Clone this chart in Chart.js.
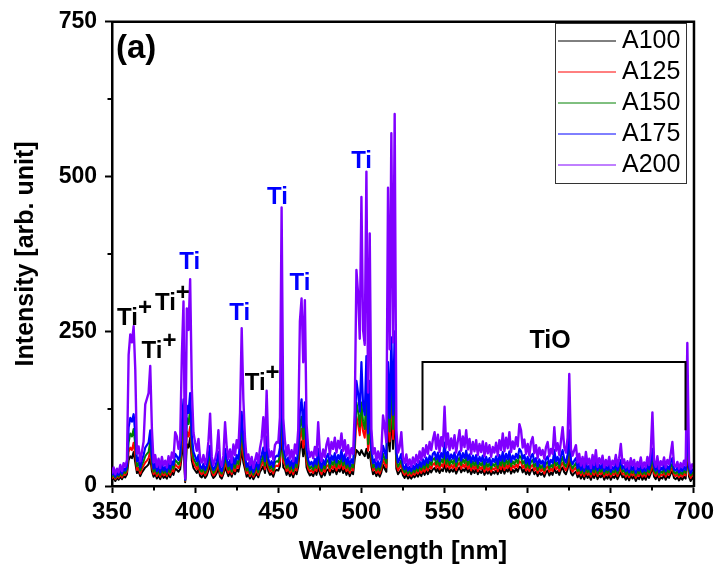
<!DOCTYPE html>
<html>
<head>
<meta charset="utf-8">
<title>Emission spectra A100–A200</title>
<script src="https://cdn.jsdelivr.net/npm/chart.js@4/dist/chart.umd.min.js"></script>
<style>
  html, body { margin: 0; padding: 0; background: #ffffff; }
  canvas { display: block; }
</style>
</head>
<body>
<canvas id="spectrum" width="719" height="576"></canvas>
<script>
// Wavelength grid of the recorded spectra (nm)
const WL_START = 350;
const WL_STEP = 1;

// Emission intensity [arb. unit], one value per nm from 350 to 700 nm
const A100 = [
  9, 14, 8, 13, 10, 15, 11, 16, 14, 19,
  42, 48, 45, 55, 38, 21, 24, 16, 22, 26,
  30, 32, 35, 45, 24, 15, 20, 12, 17, 11,
  19, 13, 16, 12, 20, 14, 22, 18, 28, 26,
  23, 27, 50, 72, 6, 68, 62, 78, 41, 29,
  25, 21, 27, 16, 14, 19, 13, 17, 25, 34,
  18, 13, 16, 21, 28, 15, 12, 19, 31, 23,
  16, 22, 15, 25, 19, 27, 23, 36, 60, 38,
  27, 15, 19, 12, 18, 11, 16, 20, 14, 23,
  27, 32, 21, 41, 24, 18, 21, 15, 24, 26,
  25, 32, 100, 30, 27, 18, 24, 16, 22, 14,
  24, 19, 31, 60, 72, 48, 68, 30, 22, 17,
  20, 16, 24, 18, 31, 20, 14, 22, 17, 25,
  27, 18, 26, 22, 28, 19, 27, 23, 31, 21,
  27, 18, 24, 16, 23, 19, 44, 58, 55, 50,
  58, 52, 48, 60, 45, 55, 32, 19, 23, 16,
  21, 15, 22, 34, 28, 23, 100, 56, 120, 60,
  128, 28, 19, 23, 27, 17, 13, 19, 12, 16,
  12, 17, 14, 19, 15, 21, 16, 23, 18, 24,
  19, 26, 22, 27, 29, 23, 28, 21, 27, 24,
  36, 23, 29, 22, 27, 23, 28, 20, 26, 30,
  22, 27, 24, 30, 22, 27, 19, 26, 21, 27,
  19, 25, 21, 26, 18, 24, 20, 24, 18, 23,
  20, 25, 19, 27, 21, 29, 20, 27, 23, 30,
  20, 26, 22, 28, 23, 31, 30, 22, 27, 19,
  24, 18, 25, 27, 19, 23, 16, 22, 18, 21,
  15, 22, 25, 17, 22, 18, 30, 21, 24, 18,
  26, 30, 22, 19, 27, 45, 21, 17, 21, 23,
  14, 19, 12, 18, 11, 20, 13, 17, 10, 18,
  13, 21, 11, 17, 14, 19, 10, 16, 12, 18,
  10, 16, 13, 18, 11, 17, 22, 14, 16, 10,
  15, 9, 17, 12, 16, 8, 14, 11, 18, 10,
  15, 10, 18, 13, 20, 32, 15, 11, 19, 9,
  14, 12, 18, 10, 16, 13, 20, 24, 13, 11,
  14, 9, 14, 10, 15, 12, 58, 15, 8, 13,
  10
];

const A125 = [
  12, 17, 11, 16, 13, 19, 14, 20, 18, 23,
  55, 62, 58, 70, 50, 26, 30, 20, 28, 33,
  38, 41, 45, 58, 31, 19, 25, 16, 22, 15,
  24, 17, 21, 16, 25, 18, 27, 23, 35, 32,
  29, 34, 65, 92, 8, 88, 80, 96, 52, 37,
  32, 27, 34, 21, 19, 25, 17, 22, 32, 43,
  23, 17, 20, 27, 36, 19, 16, 24, 39, 29,
  21, 28, 19, 31, 24, 34, 29, 45, 78, 49,
  34, 20, 25, 16, 23, 15, 20, 26, 18, 29,
  34, 41, 27, 52, 30, 23, 27, 20, 31, 33,
  32, 41, 130, 39, 34, 24, 31, 21, 28, 19,
  31, 25, 39, 78, 92, 62, 88, 39, 28, 23,
  26, 21, 30, 24, 39, 26, 19, 28, 23, 32,
  34, 24, 33, 28, 35, 25, 34, 29, 39, 27,
  34, 24, 31, 21, 29, 25, 55, 112, 100, 82,
  117, 88, 78, 122, 57, 100, 40, 25, 29, 21,
  27, 20, 28, 43, 36, 30, 130, 72, 155, 76,
  165, 36, 25, 30, 35, 22, 18, 24, 17, 21,
  16, 22, 18, 25, 20, 27, 21, 29, 23, 31,
  25, 33, 28, 35, 37, 29, 36, 27, 35, 31,
  46, 30, 37, 28, 34, 29, 36, 26, 34, 38,
  28, 35, 30, 38, 28, 34, 25, 33, 27, 34,
  24, 31, 27, 33, 23, 31, 25, 30, 23, 29,
  26, 32, 24, 34, 27, 37, 26, 34, 29, 38,
  26, 33, 29, 35, 30, 40, 38, 29, 34, 25,
  31, 24, 32, 34, 25, 30, 21, 29, 24, 28,
  20, 29, 32, 23, 28, 24, 38, 27, 31, 24,
  33, 38, 29, 25, 34, 58, 28, 23, 27, 30,
  19, 25, 17, 24, 16, 26, 18, 22, 15, 24,
  18, 27, 16, 23, 19, 25, 15, 21, 17, 24,
  15, 21, 18, 24, 16, 22, 28, 19, 21, 15,
  20, 14, 22, 17, 21, 13, 19, 16, 23, 15,
  20, 15, 23, 18, 25, 40, 20, 16, 24, 14,
  19, 17, 23, 15, 21, 18, 25, 30, 18, 16,
  19, 14, 19, 15, 20, 17, 72, 20, 13, 18,
  15
];

const A150 = [
  14, 20, 13, 19, 15, 22, 17, 24, 21, 27,
  70, 85, 80, 92, 66, 32, 37, 25, 34, 40,
  48, 52, 55, 72, 38, 23, 30, 20, 27, 18,
  29, 21, 26, 19, 30, 22, 33, 28, 42, 39,
  35, 41, 80, 115, 9, 110, 100, 125, 64, 45,
  39, 33, 41, 26, 23, 30, 21, 27, 39, 52,
  28, 21, 25, 33, 44, 24, 20, 29, 48, 36,
  26, 34, 23, 38, 29, 41, 35, 56, 95, 60,
  41, 25, 30, 20, 28, 18, 25, 31, 22, 35,
  41, 50, 33, 64, 36, 28, 33, 25, 38, 40,
  39, 50, 160, 48, 41, 29, 38, 26, 34, 24,
  38, 30, 47, 95, 112, 76, 108, 48, 34, 28,
  32, 26, 36, 29, 48, 32, 24, 34, 28, 39,
  42, 29, 40, 34, 43, 31, 41, 35, 47, 33,
  42, 29, 38, 26, 35, 30, 65, 135, 120, 96,
  135, 104, 92, 150, 68, 120, 48, 30, 35, 25,
  33, 25, 34, 52, 44, 37, 160, 88, 190, 92,
  200, 44, 31, 36, 42, 27, 22, 29, 20, 25,
  20, 27, 22, 30, 24, 33, 26, 35, 28, 38,
  30, 40, 34, 43, 45, 35, 44, 33, 43, 38,
  56, 36, 45, 34, 42, 36, 44, 32, 41, 46,
  34, 43, 37, 47, 34, 42, 31, 40, 33, 41,
  29, 38, 33, 40, 28, 38, 31, 37, 28, 36,
  32, 39, 29, 41, 33, 45, 32, 42, 35, 46,
  32, 40, 35, 43, 37, 49, 46, 36, 41, 30,
  38, 29, 39, 42, 31, 37, 26, 35, 29, 34,
  25, 36, 39, 28, 34, 30, 47, 33, 38, 29,
  40, 47, 35, 31, 42, 72, 34, 28, 33, 37,
  24, 31, 21, 29, 20, 32, 22, 27, 19, 30,
  22, 33, 20, 28, 23, 30, 19, 26, 21, 29,
  19, 25, 22, 29, 20, 27, 34, 23, 26, 19,
  25, 18, 27, 21, 26, 17, 24, 20, 28, 19,
  24, 19, 28, 22, 31, 48, 25, 20, 29, 18,
  24, 21, 28, 19, 26, 22, 31, 36, 22, 20,
  24, 18, 23, 19, 25, 21, 88, 25, 17, 22,
  19
];

const A175 = [
  17, 24, 15, 23, 18, 27, 20, 29, 25, 33,
  95, 110, 104, 116, 85, 40, 46, 30, 42, 50,
  62, 66, 70, 90, 48, 28, 37, 24, 33, 22,
  35, 25, 31, 23, 36, 27, 40, 34, 52, 48,
  42, 50, 100, 140, 10, 130, 118, 150, 80, 55,
  48, 40, 50, 32, 28, 36, 26, 33, 48, 65,
  34, 26, 31, 40, 55, 29, 24, 35, 60, 44,
  32, 42, 28, 46, 36, 50, 43, 70, 120, 75,
  50, 31, 37, 25, 34, 22, 30, 38, 27, 43,
  50, 62, 40, 80, 44, 34, 40, 31, 46, 49,
  48, 62, 200, 60, 50, 35, 46, 32, 41, 29,
  46, 37, 58, 120, 140, 95, 135, 60, 42, 34,
  39, 32, 44, 35, 60, 39, 29, 42, 34, 47,
  52, 36, 49, 42, 53, 38, 50, 43, 58, 40,
  51, 35, 46, 32, 43, 37, 80, 170, 150, 120,
  200, 130, 115, 210, 85, 170, 60, 37, 43, 30,
  40, 31, 41, 65, 55, 45, 200, 110, 240, 115,
  250, 55, 38, 44, 52, 33, 27, 36, 25, 31,
  24, 33, 27, 36, 29, 40, 31, 43, 34, 46,
  37, 49, 41, 52, 55, 43, 54, 40, 53, 46,
  70, 44, 55, 42, 51, 44, 54, 39, 50, 56,
  41, 53, 45, 57, 42, 51, 38, 49, 40, 50,
  36, 47, 40, 49, 35, 47, 38, 45, 34, 44,
  39, 48, 35, 50, 41, 55, 40, 52, 43, 56,
  39, 49, 43, 52, 45, 60, 56, 44, 50, 37,
  47, 35, 48, 52, 38, 45, 32, 43, 36, 41,
  31, 44, 48, 34, 42, 37, 58, 40, 47, 36,
  49, 58, 43, 38, 51, 90, 42, 35, 41, 45,
  29, 38, 26, 35, 24, 39, 27, 33, 23, 36,
  27, 40, 25, 34, 28, 36, 24, 32, 26, 35,
  23, 31, 27, 36, 25, 33, 42, 28, 32, 24,
  31, 22, 33, 26, 32, 21, 30, 25, 34, 23,
  29, 24, 35, 27, 38, 60, 31, 25, 36, 22,
  30, 26, 34, 24, 32, 27, 38, 45, 27, 25,
  30, 22, 29, 24, 31, 26, 110, 31, 21, 27,
  24
];

const A200 = [
  20, 30, 19, 28, 22, 34, 24, 37, 31, 42,
  212, 245, 232, 258, 188, 52, 64, 40, 55, 72,
  132, 141, 150, 194, 92, 38, 50, 31, 44, 29,
  47, 33, 41, 30, 48, 36, 54, 45, 87, 80,
  60, 74, 210, 298, 12, 287, 252, 334, 158, 86,
  70, 57, 76, 44, 38, 50, 35, 46, 72, 117,
  47, 34, 43, 56, 90, 40, 32, 49, 103, 63,
  44, 59, 38, 67, 50, 74, 61, 119, 255, 140,
  76, 42, 51, 34, 47, 29, 41, 53, 37, 61,
  76, 111, 57, 154, 62, 47, 56, 43, 66, 71,
  70, 111, 450, 109, 73, 49, 66, 44, 58, 40,
  67, 52, 91, 266, 303, 200, 300, 101, 60, 47,
  55, 45, 63, 49, 103, 56, 40, 59, 47, 67,
  77, 51, 71, 60, 78, 54, 73, 61, 85, 57,
  74, 49, 66, 45, 61, 52, 122, 349, 311, 238,
  467, 252, 228, 508, 151, 408, 92, 52, 61, 41,
  56, 43, 58, 114, 95, 71, 482, 221, 570, 232,
  601, 90, 54, 63, 87, 46, 37, 51, 33, 43,
  31, 46, 35, 50, 38, 56, 42, 61, 47, 66,
  52, 71, 58, 75, 87, 60, 83, 55, 79, 64,
  128, 62, 85, 58, 77, 61, 82, 54, 73, 90,
  57, 80, 63, 90, 59, 76, 52, 71, 56, 74,
  50, 68, 55, 72, 48, 69, 53, 66, 47, 63,
  54, 70, 49, 74, 58, 85, 56, 78, 61, 87,
  55, 72, 60, 79, 64, 100, 90, 62, 75, 52,
  68, 49, 71, 79, 53, 66, 45, 62, 50, 58,
  44, 63, 71, 48, 60, 52, 95, 57, 69, 50,
  73, 95, 62, 54, 78, 181, 60, 49, 58, 66,
  38, 52, 33, 47, 30, 55, 35, 44, 29, 50,
  34, 58, 31, 45, 36, 49, 30, 42, 33, 47,
  29, 41, 34, 50, 32, 45, 68, 36, 43, 30,
  40, 28, 45, 33, 42, 27, 39, 31, 46, 29,
  38, 30, 47, 34, 55, 119, 41, 31, 48, 28,
  40, 33, 46, 30, 42, 35, 52, 71, 34, 31,
  39, 28, 37, 30, 41, 33, 231, 40, 27, 35,
  30
];

const seriesNames = ['A100', 'A125', 'A150', 'A175', 'A200'];
const seriesValues = [A100, A125, A150, A175, A200];
const seriesColors = ['#000000', '#ff0000', '#008000', '#0000ff', '#8000ff'];
// Trace widths: the denser, brighter spectra are drawn with a heavier pen
const seriesWidths = [2, 2, 2, 2.2, 2.4];

// Axis ticks
const xTickValues = [350, 400, 450, 500, 550, 600, 650, 700];
const xMinorTicks = [375, 425, 475, 525, 575, 625, 675];
const yTickValues = [0, 250, 500, 750];
const yMinorTicks = [125, 375, 625];

// Line identifications (text, colour, ionised?) and where they sit in data units
const lineLabels = [
  { text: 'Ti', ion: true,  color: '#000000', wl: 353.0, level: 260, align: 'left' },
  { text: 'Ti', ion: true,  color: '#000000', wl: 367.8, level: 207, align: 'left' },
  { text: 'Ti', ion: true,  color: '#000000', wl: 375.8, level: 284, align: 'left' },
  { text: 'Ti', ion: false, color: '#0000ff', wl: 396.8, level: 351, align: 'center' },
  { text: 'Ti', ion: false, color: '#0000ff', wl: 426.8, level: 268, align: 'center' },
  { text: 'Ti', ion: true,  color: '#000000', wl: 429.8, level: 155, align: 'left' },
  { text: 'Ti', ion: false, color: '#0000ff', wl: 449.5, level: 455, align: 'center' },
  { text: 'Ti', ion: false, color: '#0000ff', wl: 463.1, level: 317, align: 'center' },
  { text: 'Ti', ion: false, color: '#0000ff', wl: 500.1, level: 514, align: 'center' },
  { text: 'TiO', ion: false, color: '#000000', wl: 613.5, level: 223, align: 'center' }
];
// Bracket spanning the TiO band system
const tioBand = { from: 536.7, to: 694.3, top: 200, foot: 90 };
const panelTag = { text: '(a)', wl: 352.4, level: 691 };

const wavelengths = A100.map((_, i) => WL_START + i * WL_STEP);
const FONT = "'Liberation Sans', Arial, Helvetica, sans-serif";

const decorations = {
  id: 'decorations',
  afterDraw(chart) {
    const { ctx, chartArea: ca, scales } = chart;
    const xs = scales.x, ys = scales.y;
    ctx.save();

    // Top and right frame lines
    ctx.strokeStyle = '#000';
    ctx.lineWidth = 2.5;
    ctx.beginPath();
    ctx.moveTo(ca.left - 1, ca.top);
    ctx.lineTo(ca.right, ca.top);
    ctx.lineTo(ca.right, ca.bottom + 1);
    ctx.stroke();

    // Minor ticks
    ctx.lineWidth = 2;
    ctx.beginPath();
    xMinorTicks.forEach(v => {
      const px = Math.round(xs.getPixelForValue(v));
      ctx.moveTo(px, ca.bottom);
      ctx.lineTo(px, ca.bottom + 4.5);
    });
    yMinorTicks.forEach(v => {
      const py = Math.round(ys.getPixelForValue(v));
      ctx.moveTo(ca.left, py);
      ctx.lineTo(ca.left - 4.5, py);
    });
    ctx.stroke();

    // Panel tag
    ctx.fillStyle = '#000';
    ctx.font = 'bold 33px ' + FONT;
    ctx.textBaseline = 'alphabetic';
    ctx.textAlign = 'left';
    ctx.fillText(panelTag.text, xs.getPixelForValue(panelTag.wl), ys.getPixelForValue(panelTag.level));

    // Line identifications
    lineLabels.forEach(l => {
      const isBand = l.text === 'TiO';
      ctx.font = 'bold ' + (isBand ? 25 : 24) + 'px ' + FONT;
      ctx.fillStyle = l.color;
      const w = ctx.measureText(l.text).width;
      const px = xs.getPixelForValue(l.wl);
      const py = ys.getPixelForValue(l.level);
      const left = l.align === 'center' ? px - w / 2 : px;
      ctx.textAlign = 'left';
      ctx.fillText(l.text, left, py);
      if (l.ion) ctx.fillText('+', left + w, py - 10);
    });

    // TiO bracket
    ctx.strokeStyle = '#000';
    ctx.lineWidth = 2;
    ctx.beginPath();
    const bx0 = Math.round(xs.getPixelForValue(tioBand.from)) + 0.5;
    const bx1 = Math.round(xs.getPixelForValue(tioBand.to)) + 0.5;
    const byTop = Math.round(ys.getPixelForValue(tioBand.top));
    const byFoot = ys.getPixelForValue(tioBand.foot);
    ctx.moveTo(bx0, byFoot);
    ctx.lineTo(bx0, byTop);
    ctx.lineTo(bx1, byTop);
    ctx.lineTo(bx1, byFoot);
    ctx.stroke();

    // Legend box
    const lg = { left: 555, top: 23, width: 131, height: 160, rowTop: 41, rowStep: 31 };
    ctx.fillStyle = '#fff';
    ctx.fillRect(lg.left, lg.top, lg.width, lg.height);
    ctx.strokeStyle = '#333';
    ctx.lineWidth = 1;
    ctx.strokeRect(lg.left + 0.5, lg.top + 0.5, lg.width, lg.height);
    ctx.font = '25px ' + FONT;
    ctx.textBaseline = 'middle';
    chart.data.datasets
      .slice()
      .sort((a, b) => seriesNames.indexOf(a.label) - seriesNames.indexOf(b.label))
      .forEach((ds, i) => {
        const ry = lg.rowTop + i * lg.rowStep;
        ctx.strokeStyle = ds.borderColor;
        ctx.lineWidth = 1;
        ctx.beginPath();
        ctx.moveTo(lg.left + 3, ry);
        ctx.lineTo(lg.left + 61, ry);
        ctx.stroke();
        ctx.fillStyle = '#000';
        ctx.fillText(ds.label, lg.left + 67, ry);
      });

    ctx.restore();
  }
};

new Chart(document.getElementById('spectrum'), {
  type: 'line',
  data: {
    datasets: seriesNames.map((name, k) => ({
      label: name,
      data: seriesValues[k].map((v, i) => ({ x: wavelengths[i], y: v })),
      borderColor: seriesColors[k],
      backgroundColor: seriesColors[k],
      borderWidth: seriesWidths[k],
      borderJoinStyle: 'round',
      pointRadius: 0,
      tension: 0,
      fill: false,
      order: seriesNames.length - 1 - k
    }))
  },
  options: {
    responsive: false,
    animation: false,
    devicePixelRatio: 1,
    events: [],
    layout: { padding: { top: 18, right: 24, left: 0, bottom: 0 } },
    plugins: {
      legend: { display: false },
      tooltip: { enabled: false }
    },
    scales: {
      x: {
        type: 'linear',
        min: 350,
        max: 700,
        afterBuildTicks: s => { s.ticks = xTickValues.map(v => ({ value: v })); },
        afterFit: s => { s.height = 90; },
        ticks: {
          color: '#000',
          font: { family: FONT, size: 24, weight: 'bold' },
          padding: 5,
          maxRotation: 0
        },
        grid: { display: true, drawOnChartArea: false, drawTicks: true, tickLength: 7, tickWidth: 2, tickColor: '#000' },
        border: { display: true, color: '#000', width: 2.5 },
        title: {
          display: true,
          text: 'Wavelength [nm]',
          color: '#000',
          font: { family: FONT, size: 26, weight: 'bold' },
          padding: { top: 0, bottom: 9 }
        }
      },
      y: {
        type: 'linear',
        min: 0,
        max: 750,
        afterBuildTicks: s => { s.ticks = yTickValues.map(v => ({ value: v })); },
        afterFit: s => { s.width = 112; },
        ticks: {
          color: '#000',
          font: { family: FONT, size: 23, weight: 'bold' },
          padding: 8
        },
        grid: { display: true, drawOnChartArea: false, drawTicks: true, tickLength: 7, tickWidth: 2, tickColor: '#000' },
        border: { display: true, color: '#000', width: 2.5 },
        title: {
          display: true,
          text: 'Intensity [arb. unit]',
          color: '#000',
          font: { family: FONT, size: 25, weight: 'bold' },
          padding: { top: 11, bottom: 0 }
        }
      }
    }
  },
  plugins: [decorations]
});
</script>
</body>
</html>
